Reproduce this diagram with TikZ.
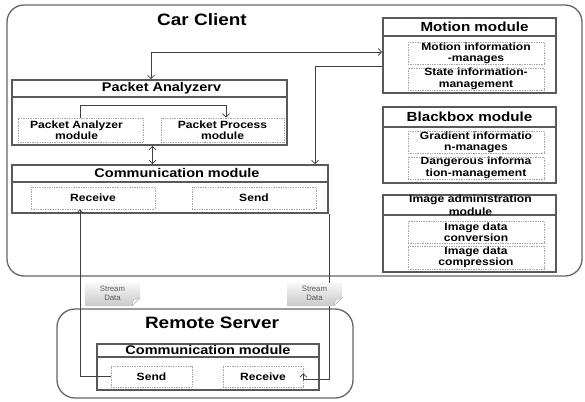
\documentclass[tikz,border=0pt]{standalone}
\usepackage{fontspec}
\setmainfont{Liberation Sans}
\newfontfamily\hd[FakeStretch=1.15]{Liberation Sans}
\usetikzlibrary{arrows.meta,calc}

\begin{document}
\begin{tikzpicture}[x=1pt,y=-1pt,
  outer/.style={draw=black!60, line width=1.3pt, rounded corners=17pt, inner sep=0pt},
  modbox/.style={draw=black!65, line width=1.7pt, inner sep=0pt},
  sepline/.style={draw=black!65, line width=1.5pt},
  subbox/.style={draw=black!35, densely dotted, line width=0.7pt, inner sep=0pt,
    align=center, font=\hd\bfseries\fontsize{10.5}{11.5}\selectfont},
  hdtext/.style={font=\hd\bfseries\fontsize{12.6}{14}\selectfont, inner sep=0pt, align=center},
  rhdtext/.style={font=\hd\bfseries\fontsize{13.2}{14}\selectfont, inner sep=0pt, align=center},
  smallhd/.style={font=\hd\bfseries\fontsize{10.6}{13}\selectfont, inner sep=0pt, align=center},
  title/.style={font=\hd\bfseries\fontsize{16.5}{18}\selectfont, inner sep=0pt},
  conn/.style={draw=black!75, line width=0.7pt, >={Straight Barb[length=3.5pt,width=7pt]}},
  tagtext/.style={font=\fontsize{7.8}{8.8}\selectfont, text=black!65, align=center, inner sep=0pt},
  tagfill/.style={top color=gray!6, bottom color=gray!42},
  fold/.style={fill=gray!12, draw=gray!55, line width=0.4pt}
]
\useasboundingbox (0,0) rectangle (585,401);

% ---------- Car client ----------
\node[outer, minimum width=575pt, minimum height=271pt] (car) at (294.5,140.5) {};
\node[title] (carT) at (202,20) {Car Client};

% Packet analyzer
\node[modbox, minimum width=275pt, minimum height=65pt] (pa) at (149.5,112.5) {};
\draw[sepline] ($(pa.north west)+(0,18)$) -- ($(pa.north east)+(0,18)$);
\node[hdtext] (paT) at ($(pa.north)+(12,9.5)$) {Packet Analyzerv};
\node[subbox, minimum width=125pt, minimum height=24pt] (pam) at (80.5,130) {Packet Analyzer\hspace*{8pt}\\module\hspace*{8pt}};
\node[subbox, minimum width=123pt, minimum height=24pt] (ppm) at (222.5,130) {Packet Process\\module};

% Communication module (car side)
\node[modbox, minimum width=316pt, minimum height=48pt] (comm) at (170,189) {};
\draw[sepline] ($(comm.north west)+(0,18)$) -- ($(comm.north east)+(0,18)$);
\node[hdtext] (commT) at ($(comm.north)+(7,9)$) {Communication module};
\node[subbox, minimum width=124pt, minimum height=22pt] (recv) at (93,198) {Receive};
\node[subbox, minimum width=124pt, minimum height=22pt] (send) at (254,198) {Send};

% Motion module
\node[modbox, minimum width=173pt, minimum height=75pt] (motion) at (469.5,55.5) {};
\draw[sepline] ($(motion.north west)+(0,19)$) -- ($(motion.north east)+(0,19)$);
\node[rhdtext] (motionT) at ($(motion.north)+(5,9.5)$) {Motion module};
\node[subbox, minimum width=136pt, minimum height=21pt] (m1) at (476,53.5) {Motion information\\-manages};
\node[subbox, minimum width=136pt, minimum height=22pt] (m2) at (476,79) {State information-\\management};

% Blackbox module
\node[modbox, minimum width=173pt, minimum height=76pt] (bb) at (469.5,145) {};
\draw[sepline] ($(bb.north west)+(0,21)$) -- ($(bb.north east)+(0,21)$);
\node[rhdtext] (bbT) at ($(bb.north)+(0,10.5)$) {Blackbox module};
\node[subbox, minimum width=136pt, minimum height=21pt] (b1) at (476,142.5) {Gradient informatio\\n-manages};
\node[subbox, minimum width=136pt, minimum height=22pt] (b2) at (476,168) {Dangerous informa\\tion-management};

% Image administration module
\node[modbox, minimum width=173pt, minimum height=77pt] (img) at (469.5,233.5) {};
\draw[sepline] ($(img.north west)+(0,21)$) -- ($(img.north east)+(0,21)$);
\node[smallhd] (imgT) at ($(img.north)+(1,11)$) {Image administration\\module};
\node[subbox, minimum width=136pt, minimum height=22pt] (i1) at (476,232) {Image data\\conversion};
\node[subbox, minimum width=136pt, minimum height=23pt] (i2) at (476,257.5) {Image data\\compression};

% ---------- Remote server ----------
\node[outer, rounded corners=18pt, minimum width=296pt, minimum height=89pt] (rs) at (205,353.5) {};
\node[title] (rsT) at (212,323) {Remote Server};
\node[modbox, minimum width=222pt, minimum height=46pt] (rcomm) at (208,367) {};
\draw[sepline] ($(rcomm.north west)+(0,14)$) -- ($(rcomm.north east)+(0,14)$);
\node[hdtext] (rcommT) at ($(rcomm.north)+(0,7)$) {Communication module};
\node[subbox, minimum width=81pt, minimum height=21pt] (rsend) at (151.5,376.5) {Send};
\node[subbox, minimum width=80pt, minimum height=21pt] (rrecv) at (263,376.5) {Receive};

% ---------- Connectors ----------
\draw[conn,<->] ($(pa.north)+(1.5,0)$) |- ($(motion.west)+(0,-3.5)$);
\draw[conn,->] ($(motion.west)+(0,10.5)$) -| ($(comm.north)+(145,0)$);
\draw[conn,<->] ($(pa.south)+(3,0)$) -- ($(comm.north)+(-17.5,0)$);
\draw[conn,->] (pam.north) -- ++(0,-12) -| ($(ppm.north)+(3.5,0)$);
\draw[conn,->] (rsend.west) -| ($(recv.south)+(-13,0)$);
\draw[conn,->] (comm.south east) -- ++(0,165) -| ($(rrecv.south east)+(0,-14)$);

% ---------- Stream data tags ----------
\shade[tagfill] (85,283) -- (140,283) -- (140,298) -- (132,306) -- (85,306) -- cycle;
\filldraw[fold] (140,298) -- (132,306) -- (133.5,299.5) -- cycle;
\node[tagtext] (tagL) at (112.5,293) {Stream\\Data};

\shade[tagfill] (287,283) -- (342,283) -- (342,298) -- (334,306) -- (287,306) -- cycle;
\filldraw[fold] (342,298) -- (334,306) -- (335.5,299.5) -- cycle;
\node[tagtext] (tagR) at (314.5,293) {Stream\\Data};
\end{tikzpicture}
\end{document}
